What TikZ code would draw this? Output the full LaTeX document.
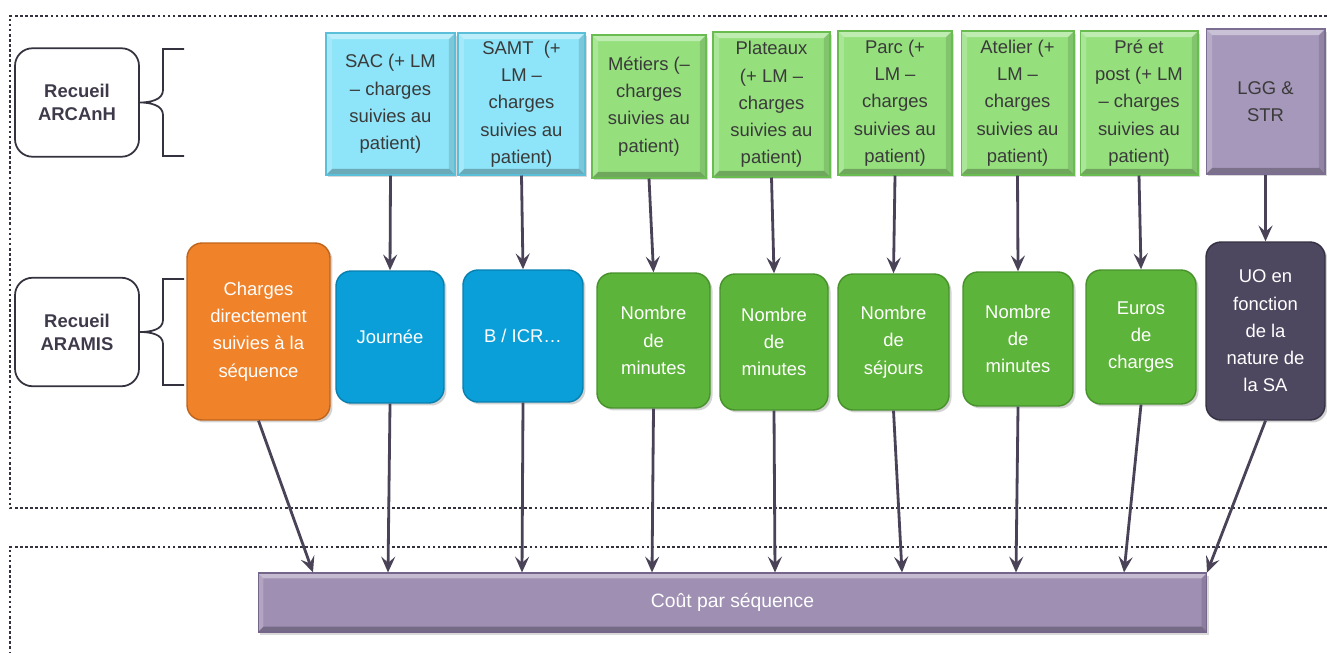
\documentclass[tikz,border=0pt]{standalone}
\usepackage{fontspec}
\setmainfont{Liberation Sans}
\usepackage{xcolor}
\usepackage{tikz}
\usetikzlibrary{arrows.meta,shadows}

\definecolor{cyantop}{HTML}{8EE4F8}
\definecolor{cyanedge}{HTML}{5BBFD9}
\definecolor{greentop}{HTML}{95E07D}
\definecolor{greenedge}{HTML}{68BC50}
\definecolor{mauvetop}{HTML}{A698BA}
\definecolor{mauveedge}{HTML}{7C6E92}
\definecolor{orangebox}{HTML}{F0822A}
\definecolor{orangeedge}{HTML}{C0641C}
\definecolor{bluebox}{HTML}{0A9FD8}
\definecolor{blueedge}{HTML}{0780B0}
\definecolor{greenbox}{HTML}{5DB43A}
\definecolor{greenboxedge}{HTML}{47922B}
\definecolor{darkbox}{HTML}{4E4760}
\definecolor{darkedge}{HTML}{363044}
\definecolor{costfill}{HTML}{9E8FB3}
\definecolor{costedge}{HTML}{74668A}
\definecolor{arrowcol}{HTML}{4A4358}
\definecolor{linegray}{HTML}{34323E}
\definecolor{labgray}{HTML}{3F3A4A}
\definecolor{txtgray}{HTML}{3A3A3A}

\begin{document}
\begin{tikzpicture}[x=0.02cm,y=-0.02cm,
  lbl/.style={draw=linegray,line width=1pt,rounded corners=0.35cm,minimum width=2.48cm,
    minimum height=2.17cm,align=center,text=labgray,font=\fontsize{10.5}{13}\selectfont\bfseries},
  bevel/.style={path picture={
    \coordinate (nw) at (path picture bounding box.north west);
    \coordinate (ne) at (path picture bounding box.north east);
    \coordinate (sw) at (path picture bounding box.south west);
    \coordinate (se) at (path picture bounding box.south east);
    \fill[white,opacity=0.4] (nw) -- (ne) -- ([shift={(-#1,-#1)}]ne) -- ([shift={(#1,-#1)}]nw) -- cycle;
    \fill[white,opacity=0.2] (nw) -- (sw) -- ([shift={(#1,#1)}]sw) -- ([shift={(#1,-#1)}]nw) -- cycle;
    \fill[black,opacity=0.12] (ne) -- (se) -- ([shift={(-#1,#1)}]se) -- ([shift={(-#1,-#1)}]ne) -- cycle;
    \fill[black,opacity=0.25] (sw) -- (se) -- ([shift={(-#1,#1)}]se) -- ([shift={(#1,#1)}]sw) -- cycle;
  }},
  topbox/.style={bevel=3.5pt,line width=0.6pt,align=center,inner sep=0pt,text=txtgray,
    font=\fontsize{10.5}{15.5}\selectfont,
    drop shadow={opacity=0.3,shadow xshift=0.04cm,shadow yshift=-0.05cm}},
  midbox/.style={line width=0.8pt,rounded corners=0.3cm,align=center,inner sep=0pt,text=white,
    font=\fontsize{10.5}{15.5}\selectfont,
    drop shadow={opacity=0.35,shadow xshift=0.05cm,shadow yshift=-0.05cm}},
  arr/.style={line width=1.6pt,draw=arrowcol,-{Stealth[length=9pt,width=8pt,inset=3.5pt]}},
  frame/.style={draw=linegray,line width=1.5pt,dash pattern=on 1.5pt off 1.4pt}]
\useasboundingbox (0,0) rectangle (1327,652);

% Frames
\draw[frame] (1327,16) -- (10,16) -- (10,508) -- (1327,508);
\draw[frame] (1327,547) -- (10,547) -- (10,652);

% Sources
\node[lbl] (arcanh) at (77,102.5) {Recueil\\ARCAnH};
\node[lbl] (aramis) at (77,332) {Recueil\\ARAMIS};
\draw[linegray,line width=1pt] (184,49) -- (163,49) -- (163,90)
  .. controls (163,100) and (150,102.5) .. (arcanh.east)
  .. controls (150,102.5) and (163,105) .. (163,115) -- (163,156) -- (184,156);
\draw[linegray,line width=1pt] (184,279) -- (163,279) -- (163,320)
  .. controls (163,330) and (150,332) .. (aramis.east)
  .. controls (150,332) and (163,334) .. (163,344) -- (163,385) -- (184,385);

% Top row
\node[topbox,fill=cyantop,draw=cyanedge,minimum width=2.58cm,minimum height=2.84cm] (sac) at (390.5,104)
  {SAC (+ LM\\– charges\\suivies au\\patient)};
\node[topbox,fill=cyantop,draw=cyanedge,minimum width=2.54cm,minimum height=2.84cm] (samt) at (521.5,104)
  {SAMT\ \ (+\\LM –\\charges\\suivies au\\patient)};
\node[topbox,fill=greentop,draw=greenedge,minimum width=2.28cm,minimum height=2.86cm] (metiers) at (649,106.5)
  {Métiers (–\\charges\\suivies au\\patient)};
\node[topbox,fill=greentop,draw=greenedge,minimum width=2.34cm,minimum height=2.9cm] (plateaux) at (771.5,104.5)
  {Plateaux\\(+ LM –\\charges\\suivies au\\patient)};
\node[topbox,fill=greentop,draw=greenedge,minimum width=2.28cm,minimum height=2.88cm] (parc) at (895,103)
  {Parc (+\\LM –\\charges\\suivies au\\patient)};
\node[topbox,fill=greentop,draw=greenedge,minimum width=2.26cm,minimum height=2.88cm] (atelier) at (1017.5,103)
  {Atelier (+\\LM –\\charges\\suivies au\\patient)};
\node[topbox,fill=greentop,draw=greenedge,minimum width=2.36cm,minimum height=2.88cm] (pre) at (1139,103)
  {Pré et\\post (+ LM\\– charges\\suivies au\\patient)};
\node[topbox,fill=mauvetop,draw=mauveedge,minimum width=2.38cm,minimum height=2.9cm] (lgg) at (1265.5,101.5)
  {LGG \&\\STR};

% Middle row
\node[midbox,fill=orangebox,draw=orangeedge,minimum width=2.86cm,minimum height=3.54cm] (charges) at (258.5,331.5)
  {Charges\\directement\\suivies à la\\séquence};
\node[midbox,fill=bluebox,draw=blueedge,minimum width=2.16cm,minimum height=2.64cm] (journee) at (390,337)
  {Journée};
\node[midbox,fill=bluebox,draw=blueedge,minimum width=2.4cm,minimum height=2.64cm] (bicr) at (523,336)
  {B / ICR…};
\node[midbox,fill=greenbox,draw=greenboxedge,minimum width=2.26cm,minimum height=2.7cm] (minA) at (653.5,340.5)
  {Nombre\\de\\minutes};
\node[midbox,fill=greenbox,draw=greenboxedge,minimum width=2.16cm,minimum height=2.72cm] (minB) at (774,342)
  {Nombre\\de\\minutes};
\node[midbox,fill=greenbox,draw=greenboxedge,minimum width=2.22cm,minimum height=2.72cm] (sejours) at (893.5,342)
  {Nombre\\de\\séjours};
\node[midbox,fill=greenbox,draw=greenboxedge,minimum width=2.2cm,minimum height=2.68cm] (minC) at (1018,339)
  {Nombre\\de\\minutes};
\node[midbox,fill=greenbox,draw=greenboxedge,minimum width=2.2cm,minimum height=2.68cm] (euros) at (1141,337)
  {Euros\\de\\charges};
\node[midbox,fill=darkbox,draw=darkedge,minimum width=2.38cm,minimum height=3.56cm] (uo) at (1265.5,331)
  {UO en\\fonction\\de la\\nature de\\la SA};

% Result
\node[bevel=3pt,fill=costfill,draw=costedge,line width=0.6pt,minimum width=18.98cm,minimum height=1.18cm,
  text=white,font=\fontsize{11}{13}\selectfont,
  drop shadow={opacity=0.3,shadow xshift=0.04cm,shadow yshift=-0.05cm}] (cost) at (732.5,602.5)
  {Coût par séquence};

% Arrows
\foreach \a/\b in {sac/journee,samt/bicr,metiers/minA,plateaux/minB,parc/sejours,
  atelier/minC,pre/euros,lgg/uo}
  \draw[arr] (\a.south) -- (\b.north);
\foreach \b/\x in {charges/313,journee/388,bicr/522,minA/652,minB/775,sejours/902,
  minC/1016,euros/1124,uo/1207}{
  \coordinate (in-\b) at (\x,0);
  \draw[arr] (\b.south) -- (cost.north -| in-\b);
}
\end{tikzpicture}
\end{document}
